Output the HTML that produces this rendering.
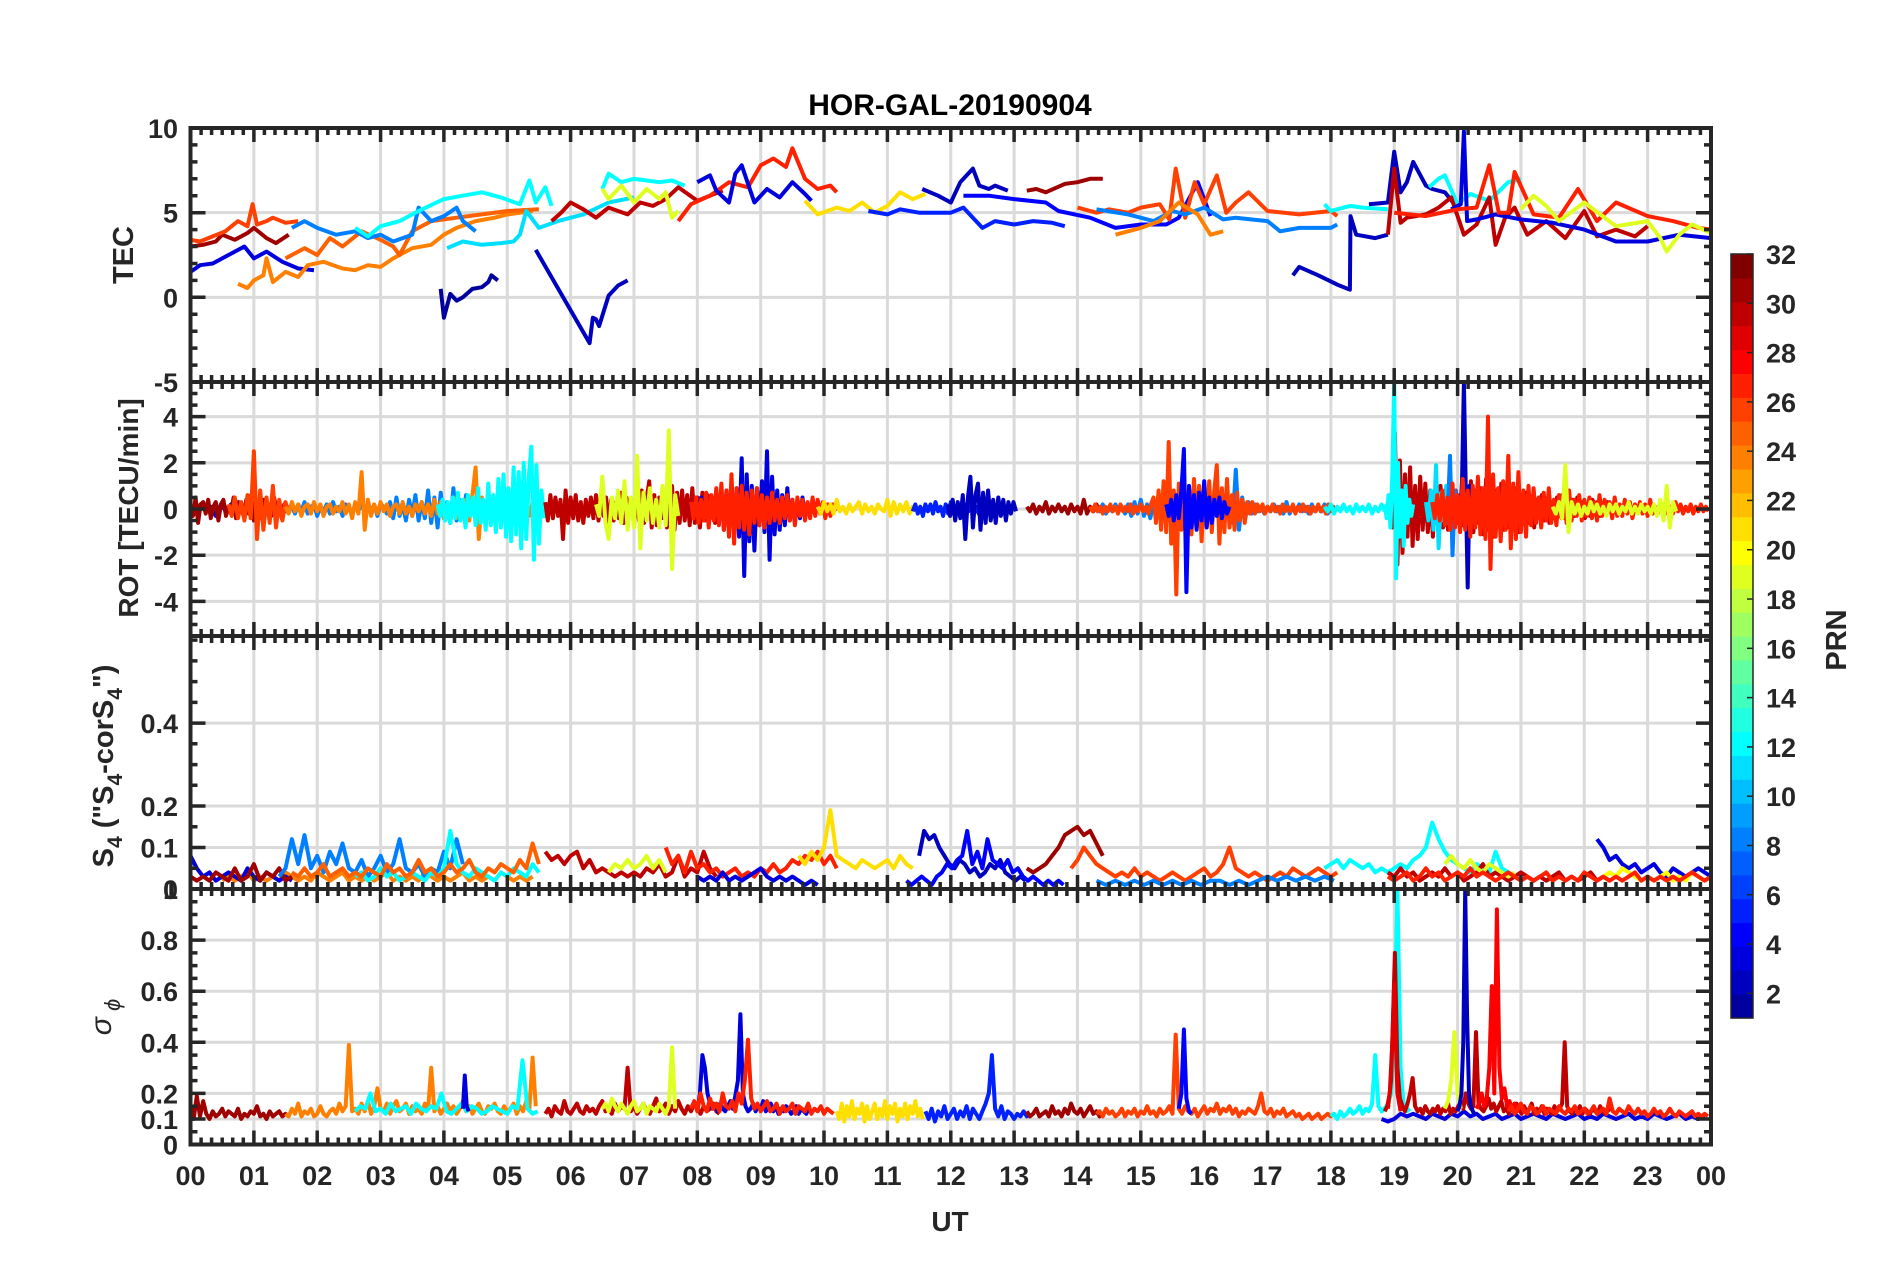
<!DOCTYPE html>
<html><head><meta charset="utf-8"><title>HOR-GAL-20190904</title>
<style>
html,body{margin:0;padding:0;background:#fff;}
svg{display:block;font-family:"Liberation Sans",Arial,sans-serif;}
</style></head>
<body>
<svg id="chart" xmlns="http://www.w3.org/2000/svg" width="1902" height="1272" viewBox="0 0 1902 1272">
<rect x="0" y="0" width="1902" height="1272" fill="#fff"/>
<text x="950" y="115" text-anchor="middle" font-size="30" font-weight="bold" fill="#000">HOR-GAL-20190904</text>
<text x="950" y="1231" text-anchor="middle" font-size="28" font-weight="bold" fill="#262626">UT</text>
<text transform="translate(133,255) rotate(-90)" text-anchor="middle" font-size="29" font-weight="bold" fill="#262626">TEC</text>
<text transform="translate(138,508) rotate(-90)" text-anchor="middle" font-size="28" font-weight="bold" fill="#262626">ROT [TECU/min]</text>
<text transform="translate(113,766) rotate(-90)" text-anchor="middle" font-size="29" font-weight="bold" fill="#262626">S<tspan font-size="21" dy="9">4</tspan><tspan dy="-9"> ("S</tspan><tspan font-size="21" dy="9">4</tspan><tspan dy="-9">-corS</tspan><tspan font-size="21" dy="9">4</tspan><tspan dy="-9">")</tspan></text>
<text transform="translate(111,1017) rotate(-90)" text-anchor="middle" font-size="30" font-style="italic" fill="#262626">σ<tspan font-size="22" dy="9"> ϕ</tspan></text>
<text transform="translate(1846,640) rotate(-90)" text-anchor="middle" font-size="29" font-weight="bold" fill="#262626">PRN</text>
<g id="grid"></g>
<g id="data"></g>
<g id="axes"></g>
<g id="cbar"></g>
</svg>
<script>
// ---------- TEC data (hours / values / PRN) ----------
const tecPrn = [3,31,26,24,25,8,12,11,12,1,2,30,19,27,3,21,5,2,4,31,26,8,24,2,12,2,12,30,3,27,19];
const tecHours = [
[0,0.15,0.35,0.6,0.85,1.0,1.2,1.45,1.7,1.95],
[0,0.2,0.4,0.5,0.7,0.9,1.0,1.2,1.35,1.55],
[0,0.15,0.35,0.55,0.75,0.9,0.98,1.05,1.2,1.3,1.5,1.7],
[0.75,0.9,1.0,1.15,1.2,1.3,1.5,1.7,1.85,2.1,2.4,2.6,2.8,3.0,3.2,3.5,3.8,4.0,4.2,4.5,4.8,5.0,5.4],
[1.5,1.8,2.0,2.2,2.4,2.7,3.0,3.2,3.3,3.5,3.8,4.2,4.6,5.0,5.5],
[1.6,1.8,2.0,2.3,2.6,2.8,3.0,3.2,3.5,3.6,3.8,4.0,4.2,4.3,4.5],
[2.6,2.8,3.0,3.3,3.6,4.0,4.3,4.6,4.9,5.2,5.35,5.45,5.6,5.7],
[4.05,4.3,4.6,4.9,5.1,5.2,5.3,5.5,5.8,6.2,6.6,7.0],
[6.5,6.6,6.8,7.0,7.2,7.4,7.6,7.8],
[3.95,4.0,4.1,4.2,4.3,4.45,4.6,4.7,4.75,4.85],
[5.45,6.3,6.35,6.4,6.45,6.6,6.75,6.9],
[5.7,5.85,6.0,6.2,6.4,6.6,6.9,7.1,7.3,7.5,7.7,8.0,8.2,8.4],
[6.5,6.6,6.8,7.0,7.2,7.4,7.5,7.6,7.7],
[7.7,7.9,8.2,8.5,8.8,9.0,9.2,9.4,9.5,9.7,9.9,10.1,10.2],
[8.0,8.2,8.3,8.5,8.6,8.7,8.9,9.1,9.3,9.5,9.7,9.8],
[9.7,9.9,10.2,10.4,10.6,10.8,11.0,11.2,11.4,11.6],
[10.7,11.0,11.2,11.5,12.0,12.2,12.5,12.7,13.0,13.3,13.6,13.8],
[11.55,11.8,12.0,12.15,12.25,12.35,12.45,12.6,12.7,12.9],
[12.2,12.6,13.0,13.5,13.7,14.2,14.6,15.0,15.4,15.6,15.9,16.1],
[13.2,13.35,13.5,13.8,14.0,14.2,14.4],
[14.0,14.3,14.5,14.8,15.0,15.3,15.45,15.55,15.7,15.85,16.0,16.2,16.35,16.5,16.7,17.0,17.5,18.0,18.1],
[14.3,14.8,15.2,15.5,15.7,16.0,16.3,16.5,17.0,17.2,17.5,18.0,18.1],
[14.6,15.0,15.3,15.6,15.9,16.1,16.3],
[17.4,17.5,17.8,18.1,18.3,18.31,18.4,18.7,18.9],
[17.9,18.0,18.3,18.5,18.9],
[18.6,18.9,19.0,19.1,19.2,19.3,19.5,19.6,19.8,19.95],
[19.55,19.7,19.8,20.0,20.2,20.5,20.8,21.0],
[18.9,19.0,19.1,19.2,19.5,19.7,19.9,20.1,20.3,20.5,20.6,20.75,20.9,21.1,21.4,21.7,22.0,22.2,22.5,22.8,23.0],
[19.9,20.05,20.1,20.15,20.3,20.6,21.0,21.5,22.0,22.5,23.0,23.5,24.0],
[19.0,19.5,20.0,20.3,20.5,20.65,20.8,20.9,21.2,21.6,21.9,22.2,22.5,23.0,23.4,23.8,24.0],
[21.0,21.2,21.4,21.6,22.0,22.5,23.0,23.2,23.3,23.5,23.7,24.0]
];
const tecVals = [
[1.5,1.9,2.0,2.5,3.0,2.3,2.7,2.1,1.7,1.6],
[3.0,3.1,3.3,3.7,3.4,3.8,4.1,3.5,3.2,3.7],
[3.4,3.3,3.6,3.9,4.5,4.2,5.5,4.3,4.5,4.7,4.4,4.5],
[0.8,0.55,1.0,1.3,2.3,0.9,1.5,1.2,1.9,2.1,1.7,1.6,1.9,1.8,2.3,2.9,3.1,3.7,4.1,4.5,4.7,4.9,5.1],
[2.3,2.9,2.5,3.5,3.0,3.9,3.4,3.0,2.5,3.9,4.5,4.7,4.9,5.1,5.2],
[4.1,4.5,4.1,3.7,3.9,3.5,3.7,3.3,3.7,5.3,4.5,4.8,5.3,4.5,3.9],
[4.1,3.6,4.2,4.5,5.1,5.8,6.0,6.2,5.9,5.5,6.9,5.6,6.5,5.4],
[2.9,3.3,3.1,3.2,3.3,3.7,5.1,4.1,4.5,4.9,5.6,5.9],
[6.4,7.3,6.8,7.0,6.9,6.8,6.9,6.6],
[0.5,-1.2,0.2,-0.2,0.0,0.5,0.6,0.9,1.3,1.0],
[2.8,-2.7,-1.2,-1.3,-1.7,0.1,0.7,1.0],
[4.5,5.0,5.6,5.2,4.7,5.3,4.9,5.6,5.4,5.8,6.5,5.7,6.0,6.3],
[6.4,5.8,6.6,5.6,6.4,5.8,6.2,4.7,5.1],
[4.5,5.5,6.0,6.8,6.5,7.8,8.2,7.7,8.8,7.0,6.4,6.6,6.2],
[6.8,7.2,6.3,5.6,7.3,7.8,5.6,6.4,5.9,6.8,6.1,5.7],
[5.7,4.9,5.3,5.1,5.6,5.0,5.4,6.2,5.8,6.1],
[5.1,4.9,5.2,5.0,5.0,5.3,4.1,4.5,4.3,4.5,4.4,4.2],
[6.4,6.0,5.6,6.8,7.2,7.6,6.6,6.4,6.6,6.3],
[6.0,6.0,5.8,5.6,5.1,4.7,4.1,4.3,4.3,4.7,6.8,4.8],
[6.3,6.4,6.2,6.7,6.8,7.0,7.0],
[5.3,5.0,5.2,5.0,5.3,5.5,4.6,7.6,4.7,6.8,5.5,7.2,5.0,5.6,6.2,5.1,4.9,5.1,4.8],
[5.2,4.9,4.5,5.1,4.9,5.3,4.6,4.7,4.5,3.9,4.1,4.1,4.3],
[3.7,4.1,4.5,5.6,4.9,3.7,3.9],
[1.3,1.8,1.3,0.75,0.45,4.8,3.7,3.5,3.7],
[5.5,5.1,5.4,5.3,5.2],
[5.5,5.6,8.6,6.2,6.8,8.0,6.6,6.4,6.2,5.5],
[6.5,7.0,7.2,5.5,6.1,5.7,6.8,7.0],
[3.7,7.6,4.4,4.7,4.9,5.3,5.9,3.7,4.3,5.9,3.1,4.7,5.3,3.7,4.5,3.5,5.1,3.6,4.0,3.6,4.2],
[5.2,5.5,9.8,4.5,4.6,4.9,4.6,4.4,4.0,3.3,3.3,3.7,3.5],
[5.0,4.8,5.2,5.3,7.8,5.0,5.0,7.4,4.9,4.7,6.4,4.5,5.6,4.8,4.5,4.1,4.0],
[5.2,6.0,5.4,4.5,5.6,4.2,4.5,3.5,2.7,3.7,4.3,3.8]
];

// ---------- ROT data (start hour, step hour, values, PRN) ----------
const rotPrn = [3,31,26,8,24,12,30,19,3,27,21,5,2,31,8,26,4,12,30,12,11,8,2,27,19];
const rotStart = [0,0,0.6,1.6,1.5,3.9,5.6,6.4,7.9,7.9,9.9,11.4,11.95,13.2,14.3,14.2,15.4,17.9,18.85,18.85,19.5,19.8,19.95,19.6,21.5];
const rotStep = [0.08,0.04,0.05,0.05,0.05,0.04,0.04,0.05,0.04,0.04,0.05,0.04,0.04,0.05,0.05,0.04,0.04,0.05,0.04,0.03,0.04,0.04,0.03,0.04,0.05];
const rotVals = [
[0.1,-0.2,0.2,-0.1,0.1,-0.3,0.2,-0.1,0.2,-0.2,0.1,-0.1,0.2,-0.2,0.3,-0.1,0.1,-0.2,0.1,-0.1,0.2],
[0.1,-0.3,0.5,-0.6,0.2,0.3,-0.2,0.4,-0.4,0.1,0.3,-0.5,0.2,0.4,-0.3,0.1,-0.2,0.5,-0.4,0.3,0.0,-0.3,0.4,-0.2,0.6,-0.5,0.3,0.1,-0.4,0.4,-0.2,0.2,-0.3,0.5,-0.1,0.3,-0.4,0.2,0.1,-0.2],
[0.2,-0.3,0.5,-0.4,0.3,-0.5,0.6,-0.4,2.5,-1.3,0.8,-0.9,0.5,-0.6,1.0,-0.8,0.4,-0.5,0.3,-0.2],
[0.1,-0.2,0.2,-0.1,0.3,-0.2,0.1,0.2,-0.3,0.1,-0.1,0.2,-0.2,0.3,-0.1,0.1,-0.3,0.2,0.0,-0.2,0.2,-0.1,0.3,-0.2,0.1,-0.1,0.2,-0.3,0.2,0.1,-0.2,0.3,-0.4,0.5,-0.3,0.2,-0.5,0.4,-0.3,0.6,-0.5,0.3,-0.4,0.8,-0.6,0.5,-0.8,0.7,-0.4,0.3,-0.6,0.9,-0.5,0.4,-0.3,0.6,-0.4,0.2,-0.3,0.1],
[0.1,-0.2,0.3,-0.1,0.2,-0.3,0.1,0.2,-0.2,0.3,-0.1,0.2,-0.3,0.1,0.2,-0.2,0.1,-0.1,0.3,-0.2,0.2,-0.4,0.3,-0.2,1.6,-0.9,0.4,-0.3,0.2,-0.2,0.3,-0.1,0.2,-0.3,0.1,0.2,-0.2,0.3,-0.2,0.1,-0.3,0.2,-0.1,0.3,-0.2,0.2,-0.3,0.4,-0.2,0.3,-0.4,0.2,-0.3,0.5,-0.4,0.3,-0.2,0.4,-0.5,0.6,1.8,-1.3,0.5,-0.4,0.3,-0.5,0.4,-0.3,0.2,-0.4,0.5,-0.3,0.4,-0.2,0.3,-0.4,0.2,-0.3,0.3,-0.2],
[0.2,-0.3,0.4,-0.5,0.3,-0.6,0.5,-0.4,0.7,-0.5,0.4,-0.8,0.6,-0.3,0.5,-0.7,0.9,-0.6,0.4,-0.9,1.1,-0.7,0.6,-1.0,1.3,-0.8,1.5,-1.2,0.9,-1.4,1.8,-1.1,1.6,-1.7,2.0,-1.3,1.4,2.7,-2.2,1.9,-1.5,0.8,-0.4],
[0.3,-0.5,0.6,-0.4,0.5,-0.3,0.4,-1.3,0.8,-0.6,0.5,-0.4,0.6,-0.5,0.3,-0.6,0.4,-0.3,0.5,-0.4,0.6,-0.5,0.4,-0.3,0.5,-0.6,0.4,-0.5,0.3,-0.4,0.7,-0.6,0.5,-0.3,0.4,-0.7,0.6,-0.5,0.8,-0.6,0.4,1.2,-0.8,0.6,-0.7,0.5,-0.4,0.6,-0.8,0.5,1.0,-0.9,0.7,-0.6,0.8,-0.5,0.6,-0.7,0.9,-0.6,0.5,-0.8,0.7,-0.5,0.6,-0.4,0.5,-0.6,0.4,-0.3],
[0.2,-0.3,1.4,-0.6,-1.3,0.5,-0.4,0.8,-0.6,1.2,-0.9,0.5,-0.8,2.3,-1.7,0.7,-0.5,0.9,-0.6,0.4,-0.8,1.0,-0.7,3.4,-2.6,0.6,-0.3],
[0.2,-0.3,0.4,-0.2,0.5,-0.4,0.3,-0.6,0.5,-0.4,0.7,-0.5,0.6,-0.9,0.8,-0.6,1.0,-0.8,0.9,-1.2,2.2,-2.9,1.5,-1.4,1.0,-1.8,0.9,-0.7,1.2,-1.0,2.5,-2.2,1.4,-1.1,0.8,-0.9,0.6,-0.7,0.9,-0.5,0.4,-0.6,0.3,-0.4,0.5,-0.3,0.2,-0.3,0.2,-0.1],
[0.3,-0.4,0.5,-0.6,0.4,-0.5,0.7,-0.8,0.6,-0.5,0.9,-0.7,1.1,-0.9,0.8,-1.2,1.5,-1.5,0.9,-0.8,1.0,-0.9,0.7,-1.1,0.8,-0.6,0.9,-0.7,0.6,-0.8,0.5,-0.6,0.7,-0.5,0.4,-0.6,0.5,-0.4,0.6,-0.5,0.4,-0.7,0.5,-0.3,0.4,-0.5,0.3,-0.4,0.5,-0.3,0.4,-0.2,0.3,-0.4,0.2,-0.3,0.2,-0.1],
[0.1,-0.2,0.3,-0.1,0.2,-0.2,0.4,-0.1,0.1,-0.2,0.2,-0.1,0.1,0.3,-0.2,0.2,-0.1,0.1,-0.2,0.2,0.0,-0.1,0.4,-0.3,0.3,-0.2,0.2,-0.1,0.3,-0.2,0.1,-0.1],
[-0.1,0.2,-0.2,0.1,-0.3,0.2,-0.1,0.2,-0.2,0.3,-0.1,0.1,-0.3,0.2,-0.2,0.3,-0.2,0.1,-0.2,0.2,-0.3,0.2,-0.1,0.2,-0.2,0.1,-0.2,0.3,-0.1,0.1,-0.2,0.2,-0.2,0.1,-0.1,0.2,-0.2,0.1],
[0.2,-0.3,0.4,-0.5,0.3,-0.4,0.6,-1.3,0.5,1.4,-0.8,0.6,1.1,-0.9,0.7,-0.6,0.8,-0.5,0.4,-0.6,0.5,-0.3,0.4,-0.5,0.3,-0.2,0.3,-0.1],
[0.1,-0.1,0.2,-0.2,0.1,-0.1,0.3,-0.2,0.1,-0.1,0.2,-0.1,0.1,-0.2,0.2,-0.1,0.1,-0.2,0.4,-0.2,0.1,-0.1,0.2,-0.1],
[0.1,-0.1,0.2,-0.2,0.1,-0.1,0.2,-0.1,0.1,-0.2,0.2,-0.3,0.3,-0.2,0.4,-0.3,0.2,-0.4,0.3,-0.2,0.5,-0.3,0.4,-0.5,0.3,-0.2,0.6,-0.4,0.3,-0.5,0.4,-0.3,0.2,-0.4,0.5,-0.3,0.4,-0.2,0.6,-0.5,0.4,-0.3,0.5,-0.6,1.7,-0.9,0.5,-0.4,0.3,-0.2,0.2,-0.1,0.1,-0.2,0.1,-0.1,0.2,-0.1,0.1,-0.2,0.3,-0.2,0.1,-0.1,0.2,-0.1,0.1,-0.2,0.2,-0.1,0.1,-0.1,0.2,-0.2,0.1,-0.1],
[0.1,-0.1,0.2,-0.1,0.1,-0.2,0.1,-0.1,0.2,-0.1,0.1,-0.2,0.2,-0.1,0.1,-0.1,0.2,-0.2,0.1,-0.1,0.2,-0.1,0.1,-0.2,0.2,0.5,-0.6,0.8,-0.9,1.2,-1.0,2.9,-1.5,0.8,-3.7,1.1,-0.9,1.4,-1.2,0.9,-1.1,1.3,-0.8,1.0,-1.4,0.9,-0.7,1.2,-1.0,0.8,1.9,-1.5,0.9,-1.0,1.3,-0.8,0.6,-0.9,0.7,-0.5,0.4,-0.6,0.3,-0.2,0.3,-0.2,0.2,-0.1,0.2,-0.2,0.1,-0.1,0.2,-0.1,0.1,-0.2,0.2,-0.1,0.1,-0.1,0.2,-0.2,0.1,-0.1,0.2,-0.1,0.1,-0.2,0.1,-0.1,0.2,-0.1,0.1,-0.2,0.2,-0.1,0.1,-0.1],
[0.2,-0.3,0.4,-0.5,0.6,-0.4,0.8,2.6,-3.6,1.0,-0.8,0.6,-0.9,0.7,-0.5,1.2,-0.8,0.5,-0.6,0.4,-0.3,0.5,-0.4,0.3,-0.2,0.1],
[0.1,-0.1,0.2,-0.2,0.1,-0.1,0.2,-0.1,0.1,-0.2,0.2,-0.1,0.1,-0.1,0.2,-0.2,0.1,-0.1,0.2,-0.1],
[0.2,-0.3,0.5,-0.8,3.3,-2.4,2.1,-1.9,1.5,-1.2,1.8,-1.6,1.0,-1.3,1.4,-0.9,1.1,-1.0,0.8,-1.2,0.9,-0.7,1.0,-0.8,0.6,-0.9,0.7,-0.5,0.8,-0.6,0.5,-0.7,0.9,-0.8,1.2,-1.0,0.8,-0.6,0.9,-1.1,1.3,-0.9,1.0,-1.2,0.8,-0.7,1.1,-0.9,0.6,-0.8,0.7,-0.5,0.9,-1.0,0.6,-0.4,0.7,-0.6,0.5,-0.8,0.4,-0.3,0.6,-0.5,0.4,-0.6,0.3,-0.4,0.5,-0.3,0.6,-0.4,0.3,-0.5,0.4,-0.3,0.5,-0.2,0.3,-0.4,0.2,-0.3,0.4,-0.2,0.3,-0.3,0.2,-0.2,0.3,-0.1,0.2,-0.2],
[0.2,-0.4,0.6,-0.8,1.5,5.5,-3.0,2.0,-1.2,0.8,-1.6,1.0,-0.6,0.4,-0.3,0.2],
[0.3,-0.5,0.8,-0.9,1.9,-1.7,0.7,-0.5,1.0,-0.6,0.4,-0.3,0.5,-0.2],
[0.4,-0.6,2.3,-2.0,0.8,-0.5,0.6,-0.3,0.4,-0.2],
[0.2,-0.3,0.5,-0.4,1.2,5.5,0.8,-3.4,1.0,-0.6,0.4,-0.5,0.3,-0.2,0.1],
[0.3,-0.4,0.6,-0.5,0.8,-0.7,0.5,-0.9,1.1,-0.8,0.6,-1.0,1.3,-0.9,0.8,-1.2,1.0,-0.8,1.4,-1.1,0.9,-1.3,4.0,-2.6,1.5,-1.2,0.9,-1.4,1.2,-0.9,2.3,-1.7,1.1,-1.3,1.6,-1.0,0.8,-1.2,1.0,-0.7,0.9,-0.6,0.5,-0.8,0.7,-0.5,0.9,-0.6,0.4,-0.7,0.6,-0.4,0.5,-0.6,0.8,-0.5,0.4,-0.3,0.6,-0.5,0.4,-0.3,0.5,-0.4,0.3,-0.5,0.6,-0.3,0.4,-0.2,0.3,-0.4,0.5,-0.3,0.2,-0.3,0.4,-0.2,0.3,-0.4,0.2,-0.1,0.3,-0.2,0.2,-0.3,0.4,-0.2,0.1,-0.2,0.3,-0.1,0.2,-0.2,0.1,-0.2,0.3,-0.1,0.2,-0.2,0.1,-0.1,0.2,-0.2,0.1,-0.1,0.2,-0.1,0.1,-0.1],
[0.1,-0.2,0.3,-0.4,1.9,-1.0,0.3,-0.2,0.2,-0.3,0.1,-0.2,0.3,-0.1,0.2,-0.2,0.1,-0.3,0.2,-0.1,0.2,-0.2,0.1,-0.1,0.3,-0.2,0.1,-0.2,0.2,-0.1,0.1,-0.2,0.2,-0.3,0.4,-0.5,1.0,-0.8,0.3,-0.1]
];

// ---------- S4 data ----------
const s4Prn = [24,3,31,8,12,25,30,19,27,3,21,2,4,31,26,8,12,30,19,3,20,27];
const s4Start = [0.5,0,0,1.4,2.6,1.6,5.6,6.6,7.5,8.0,9.6,11.5,11.3,13.2,13.9,14.3,17.9,18.9,19.8,22.2,22.3,18.9];
const s4Step = [0.1,0.1,0.1,0.1,0.1,0.1,0.1,0.1,0.1,0.1,0.1,0.08,0.08,0.1,0.1,0.15,0.1,0.1,0.1,0.1,0.1,0.1];
const s4Vals = [
[0.02,0.03,0.02,0.03,0.04,0.02,0.03,0.02,0.03,0.02,0.04,0.03,0.02,0.03,0.02,0.04,0.03,0.02,0.03,0.04,0.02,0.03,0.02,0.03,0.02,0.03,0.04,0.02,0.03,0.02,0.03,0.02,0.04,0.03,0.02,0.03,0.02,0.03,0.04,0.02,0.03,0.02,0.03,0.02,0.04,0.03,0.02,0.03,0.02,0.03],
[0.08,0.05,0.03,0.04,0.02,0.03,0.04,0.03,0.02,0.05,0.03,0.02,0.04,0.03,0.02,0.03,0.02],
[0.03,0.02,0.03,0.02,0.04,0.03,0.02,0.05,0.02,0.03,0.06,0.02,0.04,0.03,0.05,0.02,0.03],
[0.03,0.05,0.12,0.06,0.13,0.05,0.08,0.04,0.09,0.06,0.11,0.05,0.04,0.07,0.03,0.05,0.08,0.04,0.06,0.12,0.05,0.04,0.06,0.03,0.05,0.04,0.09,0.05,0.12,0.06],
[0.03,0.04,0.02,0.03,0.05,0.03,0.04,0.02,0.03,0.04,0.03,0.02,0.04,0.03,0.05,0.14,0.06,0.04,0.03,0.05,0.04,0.03,0.02,0.04,0.03,0.05,0.04,0.03,0.06,0.04],
[0.04,0.03,0.05,0.03,0.04,0.06,0.03,0.04,0.05,0.03,0.04,0.03,0.05,0.04,0.03,0.06,0.04,0.05,0.03,0.04,0.07,0.04,0.05,0.03,0.04,0.06,0.04,0.05,0.07,0.04,0.03,0.05,0.04,0.06,0.05,0.04,0.07,0.05,0.11,0.06],
[0.09,0.07,0.08,0.06,0.08,0.09,0.05,0.07,0.04,0.05,0.04,0.03,0.04,0.03,0.04,0.03,0.05,0.04,0.06,0.03,0.04,0.08,0.03,0.05,0.04,0.09,0.05,0.03],
[0.04,0.06,0.05,0.07,0.05,0.06,0.08,0.05,0.07,0.04],
[0.1,0.06,0.08,0.04,0.09,0.05,0.06,0.04,0.05,0.03,0.04,0.05,0.03,0.04,0.03,0.05,0.04,0.06,0.04,0.05,0.07,0.06,0.08,0.07,0.09,0.06,0.08,0.05],
[0.03,0.02,0.03,0.02,0.04,0.02,0.03,0.02,0.03,0.04,0.05,0.03,0.02,0.03,0.02,0.03,0.02,0.01,0.02,0.01],
[0.08,0.06,0.09,0.07,0.1,0.19,0.08,0.07,0.06,0.05,0.07,0.06,0.05,0.06,0.07,0.05,0.08,0.06,0.05],
[0.08,0.14,0.12,0.13,0.1,0.08,0.06,0.05,0.07,0.06,0.04,0.05,0.03,0.04,0.06,0.05,0.07,0.04,0.03,0.02,0.03,0.02],
[0.02,0.01,0.02,0.03,0.02,0.01,0.03,0.04,0.06,0.05,0.07,0.08,0.14,0.06,0.09,0.05,0.12,0.07,0.06,0.05,0.07,0.04,0.05,0.03,0.02,0.03,0.02,0.01,0.02,0.01,0.02,0.01],
[0.05,0.04,0.05,0.06,0.08,0.1,0.13,0.14,0.15,0.13,0.14,0.11,0.08],
[0.05,0.07,0.1,0.08,0.06,0.05,0.04,0.03,0.04,0.03,0.05,0.03,0.04,0.03,0.02,0.03,0.04,0.03,0.02,0.03,0.04,0.05,0.03,0.04,0.06,0.1,0.05,0.04,0.03,0.04,0.03,0.02,0.03,0.04,0.03,0.05,0.04,0.03,0.04,0.05,0.04,0.03,0.04],
[0.02,0.01,0.02,0.01,0.02,0.01,0.02,0.01,0.02,0.01,0.02,0.01,0.02,0.02,0.01,0.02,0.01,0.02,0.03,0.02,0.03,0.02,0.03,0.02,0.03,0.02],
[0.05,0.06,0.07,0.05,0.07,0.06,0.05,0.06,0.04,0.05,0.04,0.05,0.06,0.05,0.07,0.08,0.1,0.16,0.12,0.09,0.07,0.06,0.05,0.04,0.06,0.05,0.04,0.09,0.05,0.04,0.03,0.04],
[0.04,0.03,0.05,0.03,0.04,0.02,0.03,0.04,0.03,0.05,0.03,0.04,0.02,0.03,0.04,0.06,0.03,0.04,0.03,0.02,0.03,0.04,0.03,0.02,0.03,0.02,0.03,0.04,0.02,0.03,0.02,0.03,0.04,0.02,0.03,0.02],
[0.06,0.08,0.06,0.05,0.07,0.05,0.04,0.06,0.05,0.04,0.03,0.04],
[0.12,0.1,0.07,0.08,0.06,0.05,0.06,0.04,0.05,0.06,0.04,0.03,0.05,0.04,0.03,0.04,0.05,0.04,0.03],
[0.03,0.04,0.03,0.05,0.04,0.03,0.02,0.03,0.02,0.03,0.04,0.02,0.03,0.02,0.04,0.03,0.02],
[0.03,0.02,0.03,0.04,0.02,0.03,0.05,0.03,0.04,0.02,0.03,0.04,0.03,0.05,0.03,0.04,0.03,0.02,0.03,0.04,0.03,0.02,0.03,0.02,0.03,0.04,0.02,0.03,0.02,0.03,0.02,0.04,0.03,0.02,0.03,0.02,0.03,0.02,0.03,0.04,0.02,0.03,0.02,0.03,0.02,0.03,0.02,0.03,0.04,0.03,0.02,0.03]
];

// ---------- sigma-phi data ----------
const sigPrn = [3,31,24,12,3,30,19,3,27,21,5,31,26,4,12,30,29,19,2,28,27];
const sigStart = [18.8,0,1.5,2.6,4.3,5.6,6.5,8.0,7.9,10.2,11.6,13.2,14.3,15.6,18.0,18.85,18.9,19.8,20.0,20.3,20.8];
const sigStep = [0.1,0.05,0.05,0.08,0.03,0.05,0.05,0.04,0.05,0.04,0.05,0.05,0.05,0.04,0.05,0.04,0.05,0.05,0.03,0.04,0.05];
const sigVals = [
[0.1,0.09,0.1,0.12,0.11,0.12,0.11,0.1,0.12,0.11,0.1,0.12,0.11,0.13,0.11,0.12,0.1,0.11,0.12,0.1,0.11,0.12,0.1,0.11,0.12,0.11,0.1,0.12,0.11,0.1,0.11,0.12,0.1,0.11,0.1,0.12,0.11,0.1,0.11,0.12,0.1,0.11,0.1,0.12,0.11,0.1,0.11,0.12,0.1,0.11,0.1,0.11],
[0.15,0.1,0.19,0.11,0.17,0.12,0.1,0.13,0.11,0.12,0.14,0.11,0.13,0.12,0.11,0.14,0.1,0.12,0.11,0.13,0.12,0.15,0.11,0.12,0.1,0.13,0.11,0.12,0.13,0.11,0.12,0.11],
[0.12,0.11,0.14,0.12,0.16,0.11,0.13,0.12,0.14,0.11,0.12,0.15,0.12,0.11,0.13,0.14,0.12,0.16,0.13,0.15,0.39,0.13,0.14,0.12,0.16,0.13,0.17,0.12,0.15,0.22,0.14,0.13,0.16,0.12,0.15,0.17,0.13,0.14,0.16,0.12,0.15,0.13,0.14,0.12,0.16,0.14,0.3,0.13,0.15,0.12,0.14,0.16,0.13,0.15,0.12,0.14,0.17,0.13,0.15,0.12,0.14,0.16,0.13,0.12,0.15,0.14,0.16,0.13,0.12,0.15,0.13,0.14,0.16,0.12,0.15,0.13,0.17,0.14,0.34,0.15],
[0.13,0.15,0.14,0.2,0.13,0.14,0.12,0.16,0.13,0.14,0.15,0.12,0.16,0.14,0.13,0.15,0.14,0.2,0.13,0.12,0.14,0.16,0.13,0.15,0.14,0.12,0.13,0.15,0.14,0.13,0.12,0.15,0.14,0.33,0.14,0.12,0.13],
[0.14,0.27,0.15,0.13],
[0.12,0.14,0.11,0.15,0.13,0.12,0.17,0.13,0.12,0.14,0.16,0.13,0.12,0.15,0.13,0.14,0.12,0.15,0.17,0.13,0.14,0.12,0.16,0.13,0.15,0.14,0.3,0.13,0.15,0.12,0.14,0.16,0.13,0.12,0.15,0.18,0.13,0.14,0.16,0.12,0.15,0.13,0.17,0.14,0.12,0.15,0.13,0.16,0.14,0.12,0.15,0.13,0.14,0.16,0.13,0.12],
[0.14,0.16,0.13,0.18,0.15,0.13,0.16,0.14,0.12,0.15,0.17,0.13,0.14,0.16,0.12,0.15,0.14,0.13,0.16,0.14,0.12,0.15,0.38,0.14],
[0.13,0.2,0.35,0.3,0.2,0.16,0.14,0.15,0.13,0.16,0.14,0.13,0.15,0.17,0.14,0.19,0.25,0.51,0.2,0.15,0.13,0.14,0.16,0.13,0.15,0.14,0.17,0.13,0.14,0.16,0.13,0.15,0.12,0.14,0.13,0.15,0.14,0.12,0.13,0.15,0.12,0.14,0.13,0.12,0.14],
[0.14,0.17,0.13,0.2,0.15,0.13,0.18,0.14,0.16,0.13,0.2,0.15,0.14,0.17,0.13,0.2,0.16,0.25,0.41,0.18,0.14,0.16,0.13,0.15,0.17,0.13,0.14,0.16,0.12,0.15,0.13,0.14,0.16,0.12,0.15,0.14,0.13,0.16,0.12,0.14,0.13,0.15,0.12,0.14,0.13,0.12],
[0.13,0.1,0.16,0.09,0.15,0.11,0.17,0.1,0.14,0.12,0.16,0.09,0.15,0.1,0.13,0.16,0.1,0.14,0.11,0.17,0.1,0.15,0.12,0.16,0.09,0.14,0.11,0.16,0.1,0.15,0.12,0.17,0.11,0.14,0.1],
[0.13,0.1,0.14,0.09,0.13,0.11,0.15,0.1,0.12,0.14,0.1,0.13,0.11,0.15,0.1,0.14,0.12,0.1,0.13,0.16,0.2,0.35,0.14,0.11,0.15,0.1,0.13,0.12,0.1,0.12,0.11,0.13,0.11,0.12],
[0.13,0.11,0.12,0.14,0.11,0.12,0.13,0.11,0.15,0.12,0.13,0.11,0.14,0.12,0.16,0.13,0.12,0.14,0.11,0.13,0.15,0.12,0.13,0.11,0.12,0.13],
[0.12,0.13,0.11,0.14,0.12,0.13,0.11,0.12,0.14,0.11,0.13,0.12,0.14,0.11,0.13,0.12,0.15,0.12,0.13,0.11,0.14,0.12,0.13,0.15,0.12,0.43,0.14,0.12,0.15,0.13,0.12,0.14,0.11,0.13,0.15,0.12,0.14,0.13,0.16,0.12,0.14,0.13,0.15,0.12,0.14,0.11,0.13,0.12,0.14,0.13,0.12,0.15,0.2,0.13,0.12,0.14,0.11,0.13,0.12,0.14,0.11,0.12,0.13,0.11,0.12,0.1,0.11,0.12,0.1,0.11,0.12,0.1,0.11,0.12,0.11,0.12],
[0.14,0.2,0.45,0.18,0.13,0.12],
[0.11,0.12,0.1,0.13,0.11,0.12,0.14,0.12,0.13,0.15,0.12,0.14,0.13,0.16,0.35,0.15,0.13,0.14,0.16,0.2,0.4,1.0,0.3,0.15,0.13,0.14],
[0.13,0.15,0.2,0.4,0.75,0.3,0.18,0.15,0.13,0.16,0.2,0.26,0.15,0.13,0.14,0.12,0.15,0.13,0.12,0.14,0.13,0.15,0.12,0.14,0.13,0.16,0.12,0.14,0.13,0.15,0.17,0.14,0.2,0.16,0.14,0.15,0.44,0.16,0.14,0.13,0.15,0.18,0.14,0.16,0.13,0.15,0.17,0.13,0.14,0.12,0.15,0.13,0.16,0.14,0.12,0.15,0.13,0.14,0.16,0.12,0.14,0.13,0.15,0.12,0.14,0.13,0.12,0.15,0.13,0.14,0.16,0.4,0.15,0.13,0.12,0.14,0.13,0.15,0.12,0.14,0.13,0.12,0.14,0.13,0.12,0.15,0.13,0.12,0.14,0.13],
[0.14,0.25,0.63,0.2,0.13],
[0.14,0.17,0.25,0.44,0.2,0.14],
[0.13,0.15,0.2,0.4,1.0,0.5,0.2,0.15,0.13,0.12],
[0.14,0.16,0.2,0.15,0.18,0.3,0.62,0.2,0.92,0.3,0.18,0.22,0.15,0.17,0.14,0.16,0.13,0.15,0.14,0.13],
[0.13,0.15,0.12,0.14,0.16,0.13,0.12,0.15,0.14,0.12,0.13,0.15,0.12,0.14,0.13,0.12,0.15,0.13,0.12,0.14,0.13,0.15,0.12,0.13,0.14,0.12,0.13,0.15,0.12,0.13,0.14,0.12,0.18,0.13,0.12,0.14,0.13,0.12,0.15,0.13,0.12,0.14,0.12,0.13,0.11,0.12,0.14,0.12,0.13,0.11,0.12,0.14,0.12,0.11,0.13,0.12,0.11,0.12,0.13,0.11,0.12,0.11,0.12,0.11]
];

// ---------- axis tick labels ----------
const hourLabels = ['00','01','02','03','04','05','06','07','08','09','10','11','12','13','14','15','16','17','18','19','20','21','22','23','00'];
const tecTicks = [-5,0,5,10];
const rotTicks = [-4,-2,0,2,4];
const s4Ticks = [0,0.1,0.2,0.4];
const sigTicks = [0,0.1,0.2,0.4,0.6,0.8,1];
const cbarTicks = [2,4,6,8,10,12,14,16,18,20,22,24,26,28,30,32];

// ---------- layout ----------
const NS = 'http://www.w3.org/2000/svg';
const L = 190.5, R = 1711;
const INK = '#262626';
const panels = [
  {key:'tec', top:128, bottom:382, min:-5, max:10, ticks:tecTicks, minor:1, grid:[0,5]},
  {key:'rot', top:382, bottom:636, min:-5.5, max:5.5, ticks:rotTicks, minor:0.5, grid:[-4,-2,0,2,4]},
  {key:'s4', top:636, bottom:889, min:0, max:0.61, ticks:s4Ticks, minor:0.05, grid:[0.1,0.2,0.4]},
  {key:'sigma', top:889, bottom:1144.5, min:0, max:1, ticks:sigTicks, minor:0.05, grid:[0.1,0.2,0.4,0.6,0.8]}
];
function xOf(h){ return L + h*(R-L)/24; }
function yOf(p,v){ return p.bottom - (v-p.min)/(p.max-p.min)*(p.bottom-p.top); }
function jet(k){
  const n = 8;
  function u(j){ if(j<1||j>23) return 0; if(j<=8) return j/n; if(j<=15) return 1; return (24-j)/n; }
  const r = (k>=13)? u(k-12):0;
  const g = (k>=5 && k<=27)? u(k-4):0;
  const b = (k<=19)? u(k+4):0;
  const c = v => Math.round(Math.min(1,Math.max(0,v))*255);
  return 'rgb('+c(r)+','+c(g)+','+c(b)+')';
}
function mk(tag, attrs, parent){
  const el = document.createElementNS(NS, tag);
  for(const k in attrs) el.setAttribute(k, attrs[k]);
  parent.appendChild(el);
  return el;
}
const gGrid = document.getElementById('grid');
const gData = document.getElementById('data');
const gAxes = document.getElementById('axes');
const gCbar = document.getElementById('cbar');
const defs = mk('defs', {}, document.getElementById('chart'));

panels.forEach(p => {
  const cp = mk('clipPath', {id:'clip-'+p.key}, defs);
  mk('rect', {x:L, y:p.top, width:R-L, height:p.bottom-p.top}, cp);
  for(let h=1; h<24; h++){
    const gl = mk('line', {x1:xOf(h), x2:xOf(h), y1:p.top, y2:p.bottom, stroke:'#dadada', 'stroke-width':3}, gGrid);
    
    
  }
  p.grid.forEach(v => {
    const gl = mk('line', {x1:L, x2:R, y1:yOf(p,v), y2:yOf(p,v), stroke:'#dadada', 'stroke-width':3}, gGrid);
    
    
  });
});

function drawSeries(p, hours, vals, prn, name){
  let d = '';
  for(let i=0;i<hours.length;i++){
    d += (i? 'L':'M') + xOf(hours[i]).toFixed(1) + ' ' + yOf(p, vals[i]).toFixed(1);
  }
  const path = mk('path', {d:d, fill:'none', stroke:jet(prn), 'stroke-width':4, 'stroke-linejoin':'round', 'clip-path':'url(#clip-'+p.key+')'}, gData);
  
  
}
function seriesHours(t0, dt, n){ const a=[]; for(let i=0;i<n;i++) a.push(t0+i*dt); return a; }

tecPrn.forEach((prn,i) => drawSeries(panels[0], tecHours[i], tecVals[i], prn, 'tec-line-prn'+prn));
rotPrn.forEach((prn,i) => drawSeries(panels[1], seriesHours(rotStart[i], rotStep[i], rotVals[i].length), rotVals[i], prn, 'rot-line-prn'+prn));
s4Prn.forEach((prn,i) => drawSeries(panels[2], seriesHours(s4Start[i], s4Step[i], s4Vals[i].length), s4Vals[i], prn, 's4-line-prn'+prn));
sigPrn.forEach((prn,i) => drawSeries(panels[3], seriesHours(sigStart[i], sigStep[i], sigVals[i].length), sigVals[i], prn, 'sigma-line-prn'+prn));

panels.forEach(p => {
  const fr = mk('rect', {x:L, y:p.top, width:R-L, height:p.bottom-p.top, fill:'none', stroke:INK, 'stroke-width':4}, gAxes);
  
  
  let d = '';
  for(let m=0; m<=24*6; m++){
    const x = xOf(m/6), len = (m%6===0)? 14 : 7;
    d += 'M'+x.toFixed(1)+' '+p.top+'v'+len+'M'+x.toFixed(1)+' '+p.bottom+'v'+(-len);
  }
  const nMinor = Math.round((p.max-p.min)/p.minor);
  for(let j=0; j<=nMinor+1; j++){
    const v = Math.ceil(p.min/p.minor)*p.minor + j*p.minor;
    if(v > p.max+1e-9) break;
    const y = yOf(p,v);
    const isMaj = p.ticks.some(t => Math.abs(t-v)<1e-6);
    const len = isMaj? 15 : 7;
    d += 'M'+L+' '+y.toFixed(1)+'h'+len+'M'+R+' '+y.toFixed(1)+'h'+(-len);
  }
  const tk = mk('path', {d:d, stroke:INK, 'stroke-width':3.5, fill:'none'}, gAxes);
  
  
  p.ticks.forEach(v => {
    const t = mk('text', {x:178, y:(yOf(p,v)+10).toFixed(1), 'text-anchor':'end', 'font-size':27, 'font-weight':'bold', fill:INK}, gAxes);
    t.textContent = String(v);
    
    
  });
});
hourLabels.forEach((lab,h) => {
  const t = mk('text', {x:xOf(h).toFixed(1), y:1185, 'text-anchor':'middle', 'font-size':27, 'font-weight':'bold', fill:INK}, gAxes);
  t.textContent = lab;
  
  
});

const CB = {x:1731, w:22, top:254, bottom:1018, min:1, max:32};
function cbY(v){ return CB.bottom - (v-CB.min)/(CB.max-CB.min)*(CB.bottom-CB.top); }
for(let k=1;k<=32;k++){
  const y0 = CB.bottom - (k)/32*(CB.bottom-CB.top), y1 = CB.bottom - (k-1)/32*(CB.bottom-CB.top);
  const r = mk('rect', {x:CB.x, y:y0.toFixed(2), width:CB.w, height:(y1-y0+0.6).toFixed(2), fill:jet(k)}, gCbar);
  
  
}
const cbf = mk('rect', {x:CB.x, y:CB.top, width:CB.w, height:CB.bottom-CB.top, fill:'none', stroke:INK, 'stroke-width':1.5}, gCbar);


cbarTicks.forEach(v => {
  const y = cbY(v);
  const ln = mk('line', {x1:CB.x+CB.w-6, x2:CB.x+CB.w, y1:y, y2:y, stroke:INK, 'stroke-width':1.5}, gCbar);
  
  
  const t = mk('text', {x:1766, y:(y+10).toFixed(1), 'font-size':27, 'font-weight':'bold', fill:INK}, gCbar);
  t.textContent = String(v);
  
  
});
</script>
</body></html>
